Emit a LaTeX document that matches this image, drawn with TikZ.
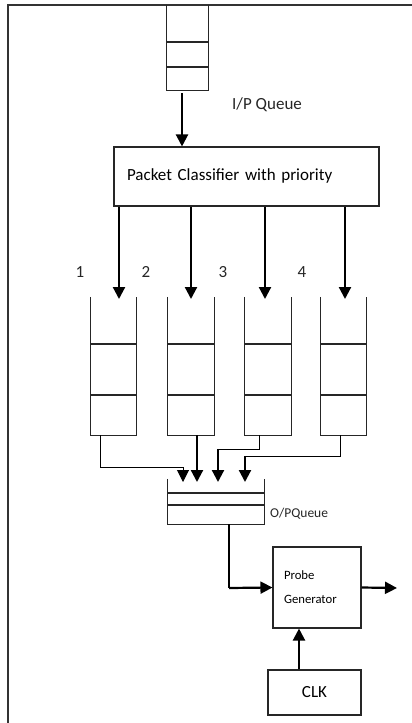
\documentclass[tikz,border=0pt]{standalone}
\usepackage{fontspec}
\setmainfont{Carlito}
\usetikzlibrary{arrows.meta,calc}
\begin{document}
\begin{tikzpicture}[x=1pt,y=-1pt,
  box/.style={draw=black!85, line width=1.1pt, inner sep=0pt},
  qbox/.style={inner sep=0pt, minimum width=46pt, minimum height=138pt},
  qline/.style={draw=black!85, line width=1.1pt},
  arr/.style={line width=2.2pt, -{Triangle[width=12pt,length=12pt]}},
  thin arr/.style={line width=1pt, -{Triangle[width=12pt,length=12pt]}},
  lbl/.style={font=\fontsize{17}{19}\selectfont, text=black!85, inner sep=0pt},
  slbl/.style={font=\fontsize{13.5}{15}\selectfont, text=black!85, inner sep=0pt}
]
\useasboundingbox (0,0) rectangle (412,723);
% outer frame (top and left only)
\draw[line width=1.5pt, black!80] (8,723) -- (8,5) -- (412,5);

% I/P queue
\node[inner sep=0pt, minimum width=41pt, minimum height=85pt] (ipq) at (187.5,47.5) {};
\draw[qline] (ipq.north west) |- (ipq.south east) -- (ipq.north east);
\draw[qline] (ipq.west |- 0,42) -- (ipq.east |- 0,42);
\draw[qline] (ipq.west |- 0,67) -- (ipq.east |- 0,67);
\node[lbl, anchor=west] (iplbl) at (232,105) {I/P Queue};

% classifier
\node[box, minimum width=265pt, minimum height=59pt, text width=239pt, align=left,
      inner xsep=13pt, font=\fontsize{17}{19}\selectfont] (cls) at (246.5,176.5)
      {\raisebox{3pt}{Packet Classifier with priority}};
\coordinate (ipa) at (182,93);
\draw[arr] (ipa) -- (ipa |- cls.north);

% four priority queues
\foreach \n/\cx in {1/113.5, 2/191, 3/268, 4/343.5} {
  \node[qbox] (q\n) at (\cx,366) {};
  \draw[qline] (q\n.north west) |- (q\n.south east) -- (q\n.north east);
  \draw[qline] (q\n.west |- 0,344) -- (q\n.east |- 0,344);
  \draw[qline] (q\n.west |- 0,395) -- (q\n.east |- 0,395);
}
% arrows classifier -> queues
\foreach \n/\ax in {1/119, 2/191, 3/265, 4/345} {
  \coordinate (a\n) at (\ax,299);
  \draw[arr] (cls.south -| a\n) -- (a\n);
}
% numbers
\node[lbl] (n1) at (80,272) {1};
\node[lbl] (n2) at (146,272) {2};
\node[lbl] (n3) at (223,272) {3};
\node[lbl] (n4) at (302,272) {4};

% O/P queue
\node[inner sep=0pt, minimum width=96pt, minimum height=45pt] (opq) at (216,501.5) {};
\draw[qline] (opq.north west) |- (opq.south east) -- (opq.north east);
\draw[qline] (opq.west |- 0,493) -- (opq.east |- 0,493);
\draw[qline] (opq.west |- 0,505) -- (opq.east |- 0,505);
\node[slbl, anchor=west] (oplbl) at (270,514) {O/PQueue};

% queue -> O/P queue connectors
\coordinate (b1) at (183,482);
\coordinate (b2) at (197,482);
\coordinate (b3) at (218,482);
\coordinate (b4) at (245,482);
\draw[thin arr] (q1.south -| 100,0) |- (183,467) -- (b1);
\draw[arr] (q2.south -| b2) -- (b2);
\draw[line width=1pt] (q3.south -| 259,0) |- (218,449);
\draw[arr] (218,449) -- (b3);
\draw[line width=1pt] (q4.south -| 340,0) |- (245,456);
\draw[arr] (245,456) -- (b4);

% probe generator
\node[box, minimum width=88pt, minimum height=81pt, text width=66pt, align=left,
      inner xsep=11pt, font=\fontsize{12.7}{24}\selectfont] (pg) at (317,587.5)
      {\raisebox{7pt}{\parbox{66pt}{\baselineskip=24pt Probe\\Generator}}};
\coordinate (bend) at (229,588);
\draw[line width=1.2pt] (opq.south -| bend) -- (bend);
\draw[arr] (bend) -- (pg.west);
\coordinate (out) at (397,588);
\draw[arr] (pg.east) -- (out);

% clock
\node[box, minimum width=93pt, minimum height=45pt, font=\fontsize{17}{19}\selectfont] (clk) at (314.5,692.5) {CLK};
\draw[arr] (clk.north -| 299,0) -- (pg.south -| 299,0);
\end{tikzpicture}
\end{document}
